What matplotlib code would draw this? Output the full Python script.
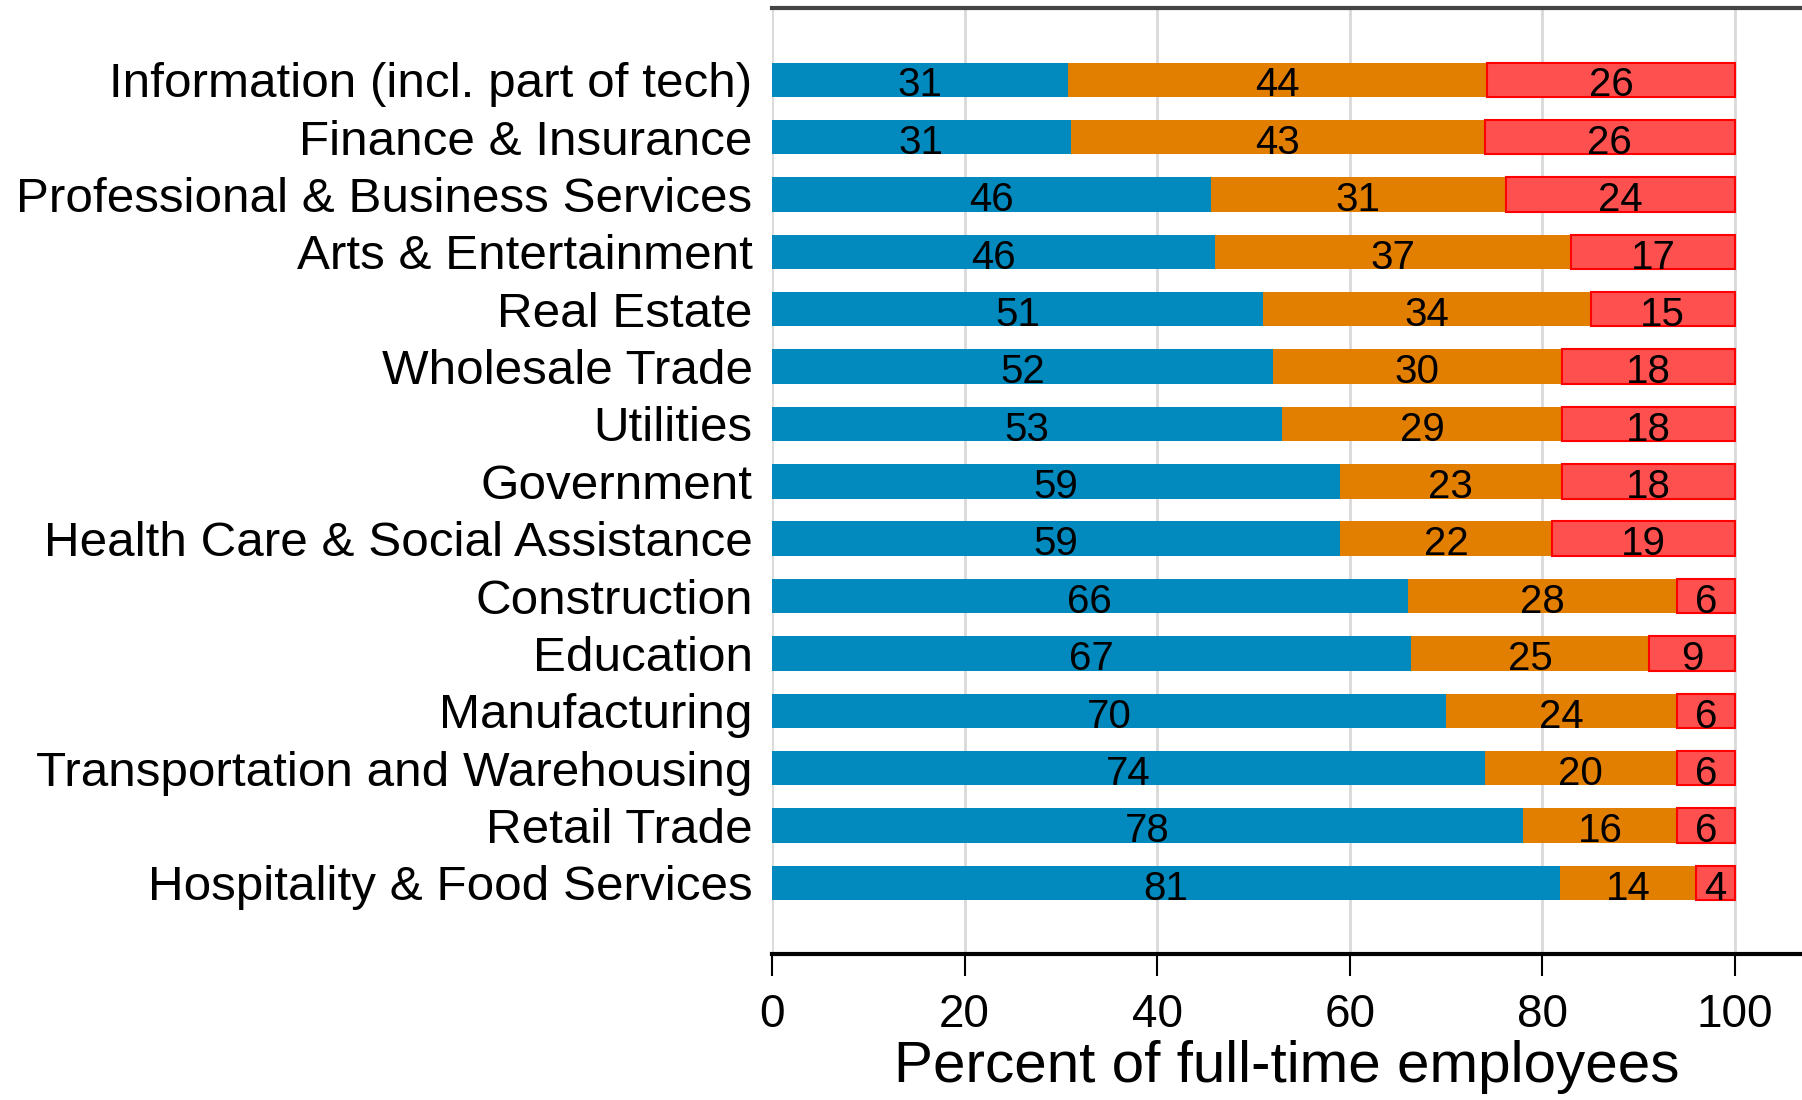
import matplotlib
matplotlib.use('Agg')
import matplotlib.pyplot as plt
import numpy as np

plt.rcParams['font.family'] = ['Liberation Sans', 'DejaVu Sans']

industries = ['Information (incl. part of tech)', 'Finance & Insurance',
              'Professional & Business Services', 'Arts & Entertainment',
              'Real Estate', 'Wholesale Trade', 'Utilities', 'Government',
              'Health Care & Social Assistance', 'Construction', 'Education',
              'Manufacturing', 'Transportation and Warehousing', 'Retail Trade',
              'Hospitality & Food Services']
first = [31, 31, 46, 46, 51, 52, 53, 59, 59, 66, 67, 70, 74, 78, 81]
second = [44, 43, 31, 37, 34, 30, 29, 23, 22, 28, 25, 24, 20, 16, 14]
third = [26, 26, 24, 17, 15, 18, 18, 18, 19, 6, 9, 6, 6, 6, 4]

COLORS = ['#028ABE', '#E27F00', '#FF5050']
EDGES = ['none', 'none', '#FF0000']

fig = plt.figure(figsize=(18.02, 11), dpi=100)
ax = fig.add_axes([0.4284, 0.1327, 0.5716, 0.86])

y = np.arange(len(industries))
# labels are rounded, bars are rescaled so every row fills 0..100
total = np.array(first) + np.array(second) + np.array(third)
left = np.zeros(len(industries))
for vals, c, ec in zip([first, second, third], COLORS, EDGES):
    vals = np.array(vals, dtype=float)
    widths = vals * 100.0 / total
    ax.barh(y, widths, left=left, height=0.6, color=c, edgecolor=ec, linewidth=1.5, zorder=3)
    for yi, l, w, v in zip(y, left, widths, vals):
        ax.text(l + w / 2, yi + 0.1, '%d' % v, ha='center', va='center',
                fontsize=29, color='black', zorder=4)
    left = left + widths

ax.set_yticks(y)
ax.set_yticklabels(industries, fontsize=35.6)
ax.tick_params(axis='y', length=0, pad=14)
ax.set_ylim(len(industries) - 1 + 1.24, -1.25)

ax.set_xlim(0, 106.96)
ax.set_xticks([0, 20, 40, 60, 80, 100])
ax.tick_params(axis='x', labelsize=33, length=16, width=1.5, direction='out', pad=12)
ax.grid(axis='x', color='#D9D9D9', linewidth=2, zorder=0)
ax.set_xlabel('Percent of full-time employees', fontsize=42, labelpad=2)

ax.spines['left'].set_visible(False)
ax.spines['right'].set_visible(False)
ax.spines['bottom'].set_linewidth(3)
ax.spines['top'].set_color('#444444')
ax.spines['top'].set_linewidth(3)

fig.savefig('out.png', dpi=100)
